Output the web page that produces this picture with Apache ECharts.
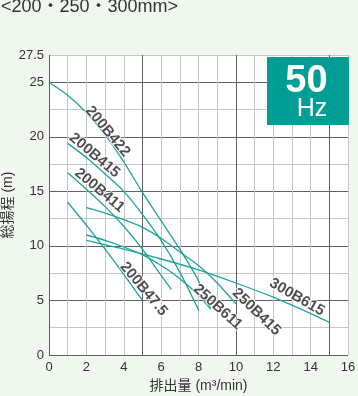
<!DOCTYPE html>
<html>
<head>
<meta charset="utf-8">
<script src="https://cdn.jsdelivr.net/npm/echarts@6/dist/echarts.min.js"></script>
<style>
html,body{margin:0;padding:0;background:#eff7ef;}
#c{width:358px;height:396px;}
</style>
</head>
<body>
<div id="c"></div>
<script>
// ---- data ----
const chartTitle = '<200・250・300mm>';
const xAxisName = '排出量 (m³/min)';
const yAxisName = '総揚程 (m)';
const xTickLabels = [0, 2, 4, 6, 8, 10, 12, 14, 16];
const yTickLabels = [0, 5, 10, 15, 20, 25, 27.5];
const seriesNames = ['200B422', '200B415', '200B411', '200B47.5', '250B611', '250B415', '300B615'];
const s200B422 = [[0,25],[1,23.8],[2,22.2],[3,20.2],[4,17.7],[5,14.9],[6,12.3],[7,9.7],[8,6.8],[8.65,4.2]];
const s200B415 = [[1,19.4],[2,18.1],[3,16.6],[4,15.0],[5,12.9],[6,10.5],[7,7.6],[8.02,4.07]];
const s200B411 = [[1,16.7],[2,15.2],[3,13.6],[4,11.8],[5,9.7],[6,7.3],[6.55,6.0]];
const s200B47_5 = [[1,14],[2,11.9],[3,9.7],[4,7.4],[5,5.0]];
const s250B611 = [[2,11.0],[3,10.5],[4,9.9],[5,9.2],[6,8.2],[7,7.0],[8,5.5],[8.65,4.2]];
const s250B415 = [[2,13.5],[3,13.0],[4,12.4],[5,11.7],[6,10.7],[7,9.45],[8,8.2],[9,6.6],[10,4.7]];
const s300B615 = [[2,10.5],[4,9.7],[6,8.8],[8,7.8],[10,6.6],[12,5.3],[14,3.8],[15,3.0]];
const seriesData = [s200B422, s200B415, s200B411, s200B47_5, s250B611, s250B415, s300B615];
// label anchors in data units: [x, y], rotation in degrees
const labelAnchors = [[3.14,20.5],[2.44,18.3],[2.71,15.1],[5.07,6.05],[9.03,4.4],[11.1,3.94],[13.27,5.3]];
const labelRotations = [-50, -40, -40, -50, -42, -44, -30];
const freqText = '50';
const freqUnit = 'Hz';

// ---- chart ----
const FONT = '"Liberation Sans", Arial, "Noto Sans CJK JP", sans-serif';
const LINE = '#1aa59b';
const chart = echarts.init(document.getElementById('c'), null, {renderer: 'canvas'});

const series = seriesData.map((d, i) => ({
  type: 'line', name: seriesNames[i], data: d, smooth: 0.25,
  showSymbol: false, symbol: 'none', z: 3, silent: true,
  lineStyle: {color: LINE, width: 1.3}
}));
series.push({
  type: 'scatter', symbolSize: 0, z: 5, silent: true,
  data: labelAnchors.map((p, i) => ({
    value: p,
    label: {show: true, position: 'inside', formatter: seriesNames[i], rotate: labelRotations[i]}
  })),
  label: {fontFamily: FONT, fontSize: 15, fontWeight: 'bold', color: '#231f20',
          textBorderColor: '#ffffff', textBorderWidth: 2}
});

chart.setOption({
  backgroundColor: '#eff7ef',
  animation: false,
  grid: {left: 49, right: 10, top: 55, bottom: 41, show: true, backgroundColor: '#ffffff',
         borderWidth: 0, containLabel: false, outerBoundsMode: 'none'},
  xAxis: [{
    type: 'value', min: 0, max: 16, interval: 1,
    axisLine: {show: false}, axisTick: {show: false},
    splitLine: {show: true, lineStyle: {color: '#c6c6c6', width: 1}},
    axisLabel: {color: '#333', fontSize: 13, fontFamily: FONT, margin: 6,
      formatter: v => xTickLabels.indexOf(v) >= 0 ? String(v) : ''},
    name: xAxisName, nameLocation: 'middle', nameGap: 24, nameMoveOverlap: false,
    nameTextStyle: {color: '#333', fontSize: 14, fontFamily: FONT}
  }, {
    type: 'value', min: 0, max: 16, interval: 5, position: 'top',
    axisLine: {show: false}, axisTick: {show: false}, axisLabel: {show: false},
    splitLine: {show: true, showMaxLine: false, lineStyle: {color: '#5f5f5f', width: 1}}
  }],
  yAxis: [{
    type: 'value', min: 0, max: 27.5, interval: 2.5,
    axisLine: {show: false}, axisTick: {show: false},
    splitLine: {show: true, lineStyle: {color: '#c6c6c6', width: 1}},
    axisLabel: {color: '#333', fontSize: 13, fontFamily: FONT, margin: 5,
      formatter: v => yTickLabels.indexOf(v) >= 0 ? String(v) : ''},
    name: yAxisName, nameLocation: 'middle', nameRotate: 90, nameGap: 34, nameMoveOverlap: false,
    nameTextStyle: {color: '#333', fontSize: 14, fontFamily: FONT}
  }, {
    type: 'value', min: 0, max: 27.5, interval: 5, position: 'right',
    axisLine: {show: false}, axisTick: {show: false}, axisLabel: {show: false},
    splitLine: {show: true, showMaxLine: false, lineStyle: {color: '#5f5f5f', width: 1}}
  }],
  graphic: [
    {type: 'text', left: 1, top: -2, style: {text: chartTitle, fill: '#333', font: '18px ' + FONT}},
    {type: 'rect', shape: {x: 267, y: 57, width: 82, height: 68}, style: {fill: '#009d95'}, z: 10},
    {type: 'text', x: 306.5, y: 82, style: {text: freqText, fill: '#fff', font: 'bold 38px ' + FONT, align: 'center', verticalAlign: 'middle'}, z: 11},
    {type: 'text', x: 312, y: 109.5, style: {text: freqUnit, fill: '#fff', font: '25px ' + FONT, align: 'center', verticalAlign: 'middle'}, z: 11}
  ],
  series: series
});
</script>
</body>
</html>
